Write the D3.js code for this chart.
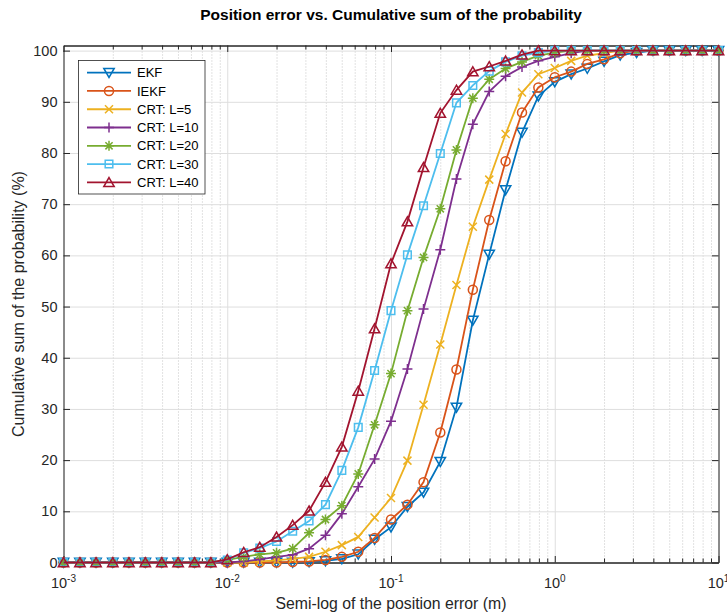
<!DOCTYPE html>
<html>
<head>
<meta charset="utf-8">
<script src="https://cdn.jsdelivr.net/npm/d3@7"></script>
<style>
  body { margin: 0; background: #fff; }
  svg { display: block; font-family: "Liberation Sans", Arial, sans-serif; }
</style>
</head>
<body>
<div id="chart"></div>
<script>
// x grid of the curves (log spaced, 10 points per decade)
const positionError = [
  0.001, 0.00126, 0.00158, 0.002, 0.00251, 0.00316, 0.00398, 0.00501, 0.00631, 0.00794,
  0.01, 0.0126, 0.0158, 0.02, 0.0251, 0.0316, 0.0398, 0.0501, 0.0631, 0.0794,
  0.1, 0.126, 0.158, 0.2, 0.251, 0.316, 0.398, 0.501, 0.631, 0.794,
  1, 1.26, 1.58, 2, 2.51, 3.16, 3.98, 5.01, 6.31, 7.94,
  10
];

// cumulative probability (%) for each filter
const ekf = [
  0, 0, 0, 0, 0, 0, 0, 0, 0, 0,
  0, 0, 0, 0, 0, 0.1, 0.3, 0.7, 1.6, 4.5,
  6.9, 10.9, 13.7, 19.7, 30.3, 47.3, 60.2, 72.8, 84.0, 91.1,
  93.9, 95.4, 96.5, 97.9, 99.1, 99.6, 100, 100, 100, 100,
  100
];
const iekf = [
  0, 0, 0, 0, 0, 0, 0, 0, 0, 0,
  0, 0, 0, 0, 0.1, 0.2, 0.5, 1.1, 2.1, 4.8,
  8.4, 11.3, 15.7, 25.4, 37.7, 53.3, 66.9, 78.4, 87.9, 92.8,
  94.8, 95.9, 97.4, 98.3, 99.5, 100, 100, 100, 100, 100,
  100
];
const crtL5 = [
  0, 0, 0, 0, 0, 0, 0, 0, 0, 0,
  0, 0, 0.2, 0.4, 0.7, 1.1, 2.1, 3.4, 5.0, 8.8,
  12.6, 19.9, 30.8, 42.6, 54.2, 65.6, 74.8, 83.7, 91.8, 95.4,
  96.6, 98.0, 99.0, 99.5, 100, 100, 100, 100, 100, 100,
  100
];
const crtL10 = [
  0, 0, 0, 0, 0, 0, 0, 0, 0, 0,
  0, 0.2, 0.6, 1.1, 1.5, 2.7, 5.3, 9.5, 14.8, 20.2,
  27.6, 37.8, 49.5, 61.1, 74.9, 85.6, 92.0, 95.0, 96.8, 98.0,
  98.8, 99.5, 100, 100, 100, 100, 100, 100, 100, 100,
  100
];
const crtL20 = [
  0, 0, 0, 0, 0, 0, 0, 0, 0, 0,
  0.5, 1.1, 1.6, 1.9, 2.7, 5.8, 8.4, 11.1, 17.3, 26.9,
  36.9, 49.2, 59.6, 69.1, 80.6, 90.7, 94.4, 96.5, 97.8, 99.0,
  99.6, 100, 100, 100, 100, 100, 100, 100, 100, 100,
  100
];
const crtL30 = [
  0, 0, 0, 0, 0, 0, 0, 0, 0, 0,
  0.5, 1.9, 2.8, 4.1, 6.1, 8.1, 11.3, 18.0, 26.4, 37.5,
  49.2, 60.1, 69.7, 79.9, 89.8, 93.2, 96.0, 97.8, 99.0, 99.6,
  100, 100, 100, 100, 100, 100, 100, 100, 100, 100,
  100
];
const crtL40 = [
  0, 0, 0, 0, 0, 0, 0, 0, 0, 0,
  0.6, 2.0, 3.0, 5.0, 7.3, 10.1, 15.7, 22.6, 33.5, 45.7,
  58.4, 66.6, 77.2, 87.8, 92.3, 95.9, 96.9, 98.0, 99.2, 100,
  100, 100, 100, 100, 100, 100, 100, 100, 100, 100,
  100
];

const seriesNames = ['EKF', 'IEKF', 'CRT: L=5', 'CRT: L=10', 'CRT: L=20', 'CRT: L=30', 'CRT: L=40'];
const seriesValues = [ekf, iekf, crtL5, crtL10, crtL20, crtL30, crtL40];
const seriesColors = ['#0072BD', '#D95319', '#EDB120', '#7E2F8E', '#77AC30', '#4DBEEE', '#A2142F'];
const seriesMarkers = ['down', 'circle', 'cross', 'plus', 'star', 'square', 'up'];

const yTicks = [0, 10, 20, 30, 40, 50, 60, 70, 80, 90, 100];
const xTicks = [0.001, 0.01, 0.1, 1, 10];
const xTickExponents = ['-3', '-2', '-1', '0', '1'];

const width = 727;
const height = 615;
const margin = {top: 45.5, right: 8.5, bottom: 52.5, left: 63.5};
const axisColor = '#262626';

const svg = d3.select('#chart')
  .append('svg')
  .attr('width', width)
  .attr('height', height);

const x = d3.scaleLog()
  .domain([0.001, 10])
  .range([margin.left, width - margin.right]);

const y = d3.scaleLinear()
  .domain([0, 101])
  .range([height - margin.bottom, margin.top]);

const plotH = y(0) - y(101);
const minorTicks = x.ticks().filter(t => !xTicks.some(m => Math.abs(m - t) / m < 1e-6));

// grid
svg.append('g')
  .attr('transform', `translate(0,${y(0)})`)
  .call(d3.axisBottom(x).tickValues(minorTicks).tickSize(-plotH).tickFormat(''))
  .call(g => g.select('.domain').remove())
  .call(g => g.selectAll('line').attr('stroke', '#c4c4c4').attr('stroke-dasharray', '1,2'));

svg.append('g')
  .attr('transform', `translate(0,${y(0)})`)
  .call(d3.axisBottom(x).tickValues(xTicks).tickSize(-plotH).tickFormat(''))
  .call(g => g.select('.domain').remove())
  .call(g => g.selectAll('line').attr('stroke', '#dedede'));

svg.append('g')
  .attr('transform', `translate(${margin.left},0)`)
  .call(d3.axisLeft(y).tickValues(yTicks).tickSize(-(x(10) - x(0.001))).tickFormat(''))
  .call(g => g.select('.domain').remove())
  .call(g => g.selectAll('line').attr('stroke', '#dedede'));

// axes box with inward ticks
function styleAxis(g) {
  g.select('.domain').attr('stroke', axisColor);
  g.selectAll('line').attr('stroke', axisColor);
}

svg.append('g')
  .attr('transform', `translate(0,${y(0)})`)
  .call(d3.axisBottom(x).tickValues(minorTicks).tickSizeInner(-4).tickSizeOuter(0).tickFormat(''))
  .call(styleAxis);
svg.append('g')
  .attr('transform', `translate(0,${y(0)})`)
  .call(d3.axisBottom(x).tickValues(xTicks).tickSizeInner(-6.5).tickSizeOuter(0).tickFormat(''))
  .call(styleAxis);
svg.append('g')
  .attr('transform', `translate(0,${y(101)})`)
  .call(d3.axisTop(x).tickValues(minorTicks).tickSizeInner(-4).tickSizeOuter(0).tickFormat(''))
  .call(styleAxis);
svg.append('g')
  .attr('transform', `translate(0,${y(101)})`)
  .call(d3.axisTop(x).tickValues(xTicks).tickSizeInner(-6.5).tickSizeOuter(0).tickFormat(''))
  .call(styleAxis);
svg.append('g')
  .attr('transform', `translate(${x(0.001)},0)`)
  .call(d3.axisLeft(y).tickValues(yTicks).tickSizeInner(-6.5).tickSizeOuter(0).tickFormat(''))
  .call(styleAxis);
svg.append('g')
  .attr('transform', `translate(${x(10)},0)`)
  .call(d3.axisRight(y).tickValues(yTicks).tickSizeInner(-6.5).tickSizeOuter(0).tickFormat(''))
  .call(styleAxis);

// tick labels
svg.append('g')
  .selectAll('text')
  .data(yTicks)
  .join('text')
  .attr('x', x(0.001) - 6)
  .attr('y', d => y(d))
  .attr('dy', '0.35em')
  .attr('text-anchor', 'end')
  .attr('font-size', 14.5)
  .attr('fill', axisColor)
  .text(d => d);

const xLab = svg.append('g')
  .selectAll('text')
  .data(xTicks)
  .join('text')
  .attr('x', d => x(d))
  .attr('y', 588)
  .attr('text-anchor', 'middle')
  .attr('font-size', 14.5)
  .attr('fill', axisColor);
xLab.append('tspan').text('10');
xLab.append('tspan')
  .attr('dy', -6)
  .attr('font-size', 10)
  .text((d, i) => xTickExponents[i]);

// curves
const rows = seriesValues.map(vals => vals.map((v, i) => ({e: positionError[i], v})));

function markerPath(type) {
  switch (type) {
    case 'down': return 'M-5.2,-4.2L5.2,-4.2L0,4.8Z';
    case 'up': return 'M0,-4.8L5.2,4.2L-5.2,4.2Z';
    case 'circle': return 'M4.5,0A4.5,4.5 0 1,1 -4.5,0A4.5,4.5 0 1,1 4.5,0Z';
    case 'cross': return 'M-4,-4L4,4M-4,4L4,-4';
    case 'plus': return 'M-5,0L5,0M0,-5L0,5';
    case 'star': return 'M-5,0L5,0M0,-5L0,5M-3.6,-3.6L3.6,3.6M-3.6,3.6L3.6,-3.6';
    case 'square': return 'M-3.8,-3.8H3.8V3.8H-3.8Z';
  }
}

const line = d3.line()
  .x(d => x(d.e))
  .y(d => y(d.v));

const curves = svg.append('g')
  .selectAll('g')
  .data(rows)
  .join('g');

curves.append('path')
  .attr('d', line)
  .attr('fill', 'none')
  .attr('stroke', (d, i) => seriesColors[i])
  .attr('stroke-width', 1.8);

curves.each(function(d, i) {
  d3.select(this)
    .selectAll('path.mk')
    .data(d)
    .join('path')
    .attr('class', 'mk')
    .attr('transform', p => `translate(${x(p.e)},${y(p.v)})`)
    .attr('d', markerPath(seriesMarkers[i]))
    .attr('fill', 'none')
    .attr('stroke', seriesColors[i])
    .attr('stroke-width', 1.5);
});

// legend
const legend = svg.append('g');
legend.append('rect')
  .attr('x', 78.5)
  .attr('y', 60.5)
  .attr('width', 126.5)
  .attr('height', 133.5)
  .attr('fill', '#fff')
  .attr('stroke', axisColor)
  .attr('stroke-width', 0.8);

const entry = legend.selectAll('g')
  .data(seriesNames)
  .join('g')
  .attr('transform', (d, i) => `translate(0,${72.7 + i * 18.27})`);
entry.append('line')
  .attr('x1', 87).attr('x2', 131)
  .attr('stroke', (d, i) => seriesColors[i])
  .attr('stroke-width', 1.8);
entry.append('path')
  .attr('transform', 'translate(109,0)')
  .attr('d', (d, i) => markerPath(seriesMarkers[i]))
  .attr('fill', 'none')
  .attr('stroke', (d, i) => seriesColors[i])
  .attr('stroke-width', 1.5);
entry.append('text')
  .attr('x', 137)
  .attr('dy', '0.35em')
  .attr('font-size', 13)
  .attr('fill', '#000')
  .text(d => d);

// titles
svg.append('text')
  .attr('x', (x(0.001) + x(10)) / 2)
  .attr('y', 20)
  .attr('text-anchor', 'middle')
  .attr('font-size', 15.5)
  .attr('font-weight', 'bold')
  .attr('fill', '#000')
  .text('Position error vs. Cumulative sum of the probability');

svg.append('text')
  .attr('x', (x(0.001) + x(10)) / 2)
  .attr('y', 609)
  .attr('text-anchor', 'middle')
  .attr('font-size', 15.8)
  .attr('fill', axisColor)
  .text('Semi-log of the position error (m)');

svg.append('text')
  .attr('transform', `translate(24,${(y(0) + y(101)) / 2}) rotate(-90)`)
  .attr('text-anchor', 'middle')
  .attr('font-size', 16)
  .attr('fill', axisColor)
  .text('Cumulative sum of the probability (%)');
</script>
</body>
</html>
